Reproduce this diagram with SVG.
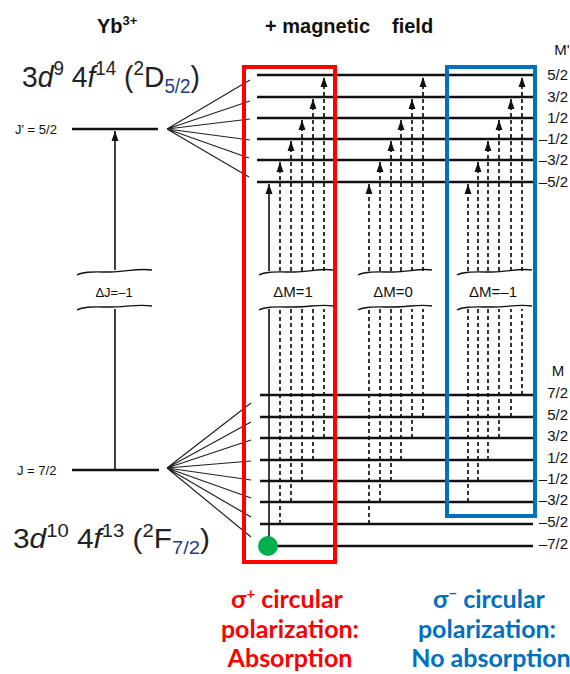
<svg xmlns="http://www.w3.org/2000/svg" width="570" height="674" viewBox="0 0 570 674">
<style>
.lvl{stroke:#111;stroke-width:2.4;fill:none}
.thin{stroke:#222;stroke-width:1.2;fill:none}
.sol{stroke:#111;stroke-width:1.6;fill:none}
.dash{stroke:#111;stroke-width:1.7;fill:none;stroke-dasharray:4 3}
.wave{stroke:#111;stroke-width:1.4;fill:none}
.lab{font-family:"Liberation Sans",Arial,sans-serif;font-size:15px;fill:#111}
.small{font-family:"Liberation Sans",Arial,sans-serif;font-size:13px;fill:#111}
.big{font-family:"Liberation Sans",Arial,sans-serif;fill:#222}
.hd{font-family:"Liberation Sans",Arial,sans-serif;font-size:20px;font-weight:bold;fill:#111}
.cap{font-family:Lato,"Liberation Sans",sans-serif;font-size:25px;font-weight:bold;text-anchor:middle}
</style>
<defs>
<marker id="ah" markerUnits="userSpaceOnUse" markerWidth="8" markerHeight="12" refX="4" refY="1" orient="0" viewBox="0 0 8 12">
<path d="M4 1 L7.5 11 L0.5 11 Z" fill="#111"/>
</marker>
</defs>

<g id="titles">
<text class="hd" x="97" y="33">Yb<tspan font-size="13" dy="-8">3+</tspan></text>
<text class="hd" x="265" y="33">+ magnetic</text>
<text class="hd" x="392" y="33">field</text>
</g>

<g id="upper-term">
<text class="big" x="22" y="87" font-size="30" textLength="178" lengthAdjust="spacingAndGlyphs">3<tspan font-style="italic">d</tspan><tspan font-size="20" dy="-12">9</tspan><tspan dy="12"> 4</tspan><tspan font-style="italic">f</tspan><tspan font-size="20" dy="-12">14</tspan><tspan dy="12"> (</tspan><tspan font-size="20" dy="-12">2</tspan><tspan dy="12">D</tspan><tspan font-size="20" dy="6" fill="#1f3c88">5/2</tspan><tspan dy="-6">)</tspan></text>
<text class="small" x="15" y="134">J' = 5/2</text>
<line class="lvl" x1="72" y1="129" x2="158" y2="129"/>
</g>

<g id="lower-term">
<text class="big" x="13" y="548" font-size="28" textLength="197" lengthAdjust="spacingAndGlyphs">3<tspan font-style="italic">d</tspan><tspan font-size="19" dy="-11">10</tspan><tspan dy="11"> 4</tspan><tspan font-style="italic">f</tspan><tspan font-size="19" dy="-11">13</tspan><tspan dy="11">  (</tspan><tspan font-size="19" dy="-11">2</tspan><tspan dy="11">F</tspan><tspan font-size="19" dy="6" fill="#1f3c88">7/2</tspan><tspan dy="-6">)</tspan></text>
<text class="small" x="17" y="475">J = 7/2</text>
<line class="lvl" x1="72" y1="470" x2="159" y2="470"/>
</g>

<g id="upper-levels">
<line class="lvl" x1="257" y1="75" x2="533" y2="75"/>
<line class="lvl" x1="257" y1="97" x2="533" y2="97"/>
<line class="lvl" x1="257" y1="118" x2="533" y2="118"/>
<line class="lvl" x1="257" y1="139" x2="533" y2="139"/>
<line class="lvl" x1="257" y1="160" x2="533" y2="160"/>
<line class="lvl" x1="257" y1="182" x2="533" y2="182"/>
<text class="lab" x="562" y="55" text-anchor="middle">M'</text>
<text class="lab" x="568" y="80" text-anchor="end">5/2</text>
<text class="lab" x="568" y="102" text-anchor="end">3/2</text>
<text class="lab" x="568" y="123" text-anchor="end">1/2</text>
<text class="lab" x="568" y="144" text-anchor="end">–1/2</text>
<text class="lab" x="568" y="165" text-anchor="end">–3/2</text>
<text class="lab" x="568" y="187" text-anchor="end">–5/2</text>
</g>

<g id="lower-levels">
<line class="lvl" x1="260" y1="395" x2="533" y2="395"/>
<line class="lvl" x1="260" y1="417" x2="533" y2="417"/>
<line class="lvl" x1="260" y1="438" x2="533" y2="438"/>
<line class="lvl" x1="260" y1="460" x2="533" y2="460"/>
<line class="lvl" x1="260" y1="481" x2="533" y2="481"/>
<line class="lvl" x1="260" y1="502" x2="533" y2="502"/>
<line class="lvl" x1="260" y1="524" x2="533" y2="524"/>
<line class="lvl" x1="269" y1="546" x2="533" y2="546"/>
<text class="lab" x="558" y="376" text-anchor="middle">M</text>
<text class="lab" x="568" y="398" text-anchor="end">7/2</text>
<text class="lab" x="568" y="420" text-anchor="end">5/2</text>
<text class="lab" x="568" y="441" text-anchor="end">3/2</text>
<text class="lab" x="568" y="463" text-anchor="end">1/2</text>
<text class="lab" x="568" y="484" text-anchor="end">–1/2</text>
<text class="lab" x="568" y="505" text-anchor="end">–3/2</text>
<text class="lab" x="568" y="527" text-anchor="end">–5/2</text>
<text class="lab" x="568" y="549" text-anchor="end">–7/2</text>
</g>

<g id="connectors">
<path class="thin" d="M167 129 L250 80 M167 129 L250 101 M167 129 L250 119 M167 129 L250 140 M167 129 L249 158 M167 129 L249 177"/>
<path class="thin" d="M167 468 L251 403 M167 468 L251 422 M167 468 L251 440 M167 468 L251 461 M167 468 L251 480 M167 468 L251 498 M167 468 L251 517 M167 468 L251 537"/>
<line class="sol" x1="115" y1="470" x2="115" y2="309"/>
<line class="sol" x1="115" y1="270" x2="115" y2="131" marker-end="url(#ah)"/>
<line class="sol" x1="269" y1="546" x2="269" y2="309"/>
<line class="sol" x1="269" y1="271" x2="269" y2="184" marker-end="url(#ah)"/>
<line class="dash" x1="280" y1="524" x2="280" y2="309"/>
<line class="dash" x1="280" y1="271" x2="280" y2="162" marker-end="url(#ah)"/>
<line class="dash" x1="291" y1="502" x2="291" y2="309"/>
<line class="dash" x1="291" y1="271" x2="291" y2="141" marker-end="url(#ah)"/>
<line class="dash" x1="302" y1="481" x2="302" y2="309"/>
<line class="dash" x1="302" y1="271" x2="302" y2="120" marker-end="url(#ah)"/>
<line class="dash" x1="313" y1="460" x2="313" y2="309"/>
<line class="dash" x1="313" y1="271" x2="313" y2="99" marker-end="url(#ah)"/>
<line class="dash" x1="324" y1="438" x2="324" y2="309"/>
<line class="dash" x1="324" y1="271" x2="324" y2="77" marker-end="url(#ah)"/>
<line class="dash" x1="369" y1="524" x2="369" y2="309"/>
<line class="dash" x1="369" y1="271" x2="369" y2="184" marker-end="url(#ah)"/>
<line class="dash" x1="380" y1="502" x2="380" y2="309"/>
<line class="dash" x1="380" y1="271" x2="380" y2="162" marker-end="url(#ah)"/>
<line class="dash" x1="391" y1="481" x2="391" y2="309"/>
<line class="dash" x1="391" y1="271" x2="391" y2="141" marker-end="url(#ah)"/>
<line class="dash" x1="401" y1="460" x2="401" y2="309"/>
<line class="dash" x1="401" y1="271" x2="401" y2="120" marker-end="url(#ah)"/>
<line class="dash" x1="412" y1="438" x2="412" y2="309"/>
<line class="dash" x1="412" y1="271" x2="412" y2="99" marker-end="url(#ah)"/>
<line class="dash" x1="423" y1="417" x2="423" y2="309"/>
<line class="dash" x1="423" y1="271" x2="423" y2="77" marker-end="url(#ah)"/>
<line class="dash" x1="468" y1="502" x2="468" y2="309"/>
<line class="dash" x1="468" y1="271" x2="468" y2="184" marker-end="url(#ah)"/>
<line class="dash" x1="478" y1="481" x2="478" y2="309"/>
<line class="dash" x1="478" y1="271" x2="478" y2="162" marker-end="url(#ah)"/>
<line class="dash" x1="488" y1="460" x2="488" y2="309"/>
<line class="dash" x1="488" y1="271" x2="488" y2="141" marker-end="url(#ah)"/>
<line class="dash" x1="499" y1="438" x2="499" y2="309"/>
<line class="dash" x1="499" y1="271" x2="499" y2="120" marker-end="url(#ah)"/>
<line class="dash" x1="511" y1="417" x2="511" y2="309"/>
<line class="dash" x1="511" y1="271" x2="511" y2="99" marker-end="url(#ah)"/>
<line class="dash" x1="522" y1="395" x2="522" y2="309"/>
<line class="dash" x1="522" y1="271" x2="522" y2="77" marker-end="url(#ah)"/>
</g>

<g id="breaks">
<path class="wave" d="M77 275 C84 271 95 272 110 272 S138 268 152 270"/>
<path class="wave" d="M77 310 C84 306 95 307 110 307 S138 304 152 306"/>
<path class="wave" d="M259 275 C266 271 278 272 294 272 S320 268 333 270"/>
<path class="wave" d="M259 310 C266 306 278 307 294 307 S320 304 333 306"/>
<path class="wave" d="M358 275 C365 271 377 272 393 272 S419 268 432 270"/>
<path class="wave" d="M358 310 C365 306 377 307 393 307 S419 304 432 306"/>
<path class="wave" d="M457 275 C464 271 476 272 492 272 S518 268 532 270"/>
<path class="wave" d="M457 310 C464 306 476 307 492 307 S518 304 532 306"/>
<text class="small" x="114" y="297" text-anchor="middle">ΔJ=–1</text>
<text class="lab" x="293" y="297" text-anchor="middle" font-size="14">ΔM=1</text>
<text class="lab" x="393" y="297" text-anchor="middle" font-size="14">ΔM=0</text>
<text class="lab" x="493" y="297" text-anchor="middle" font-size="14">ΔM=–1</text>
</g>

<g id="ground-state">
<circle cx="268" cy="546" r="10" fill="#00b050"/>
</g>

<g id="sigma-plus-box">
<rect x="244" y="67" width="91" height="495" fill="none" stroke="#ff0000" stroke-width="4"/>
<text class="cap" fill="#ff0000" x="287" y="608">σ<tspan font-size="15" dy="-9">+</tspan><tspan dy="9"> circular</tspan></text>
<text class="cap" fill="#ff0000" x="290" y="638">polarization:</text>
<text class="cap" fill="#ff0000" x="290" y="667">Absorption</text>
</g>

<g id="sigma-minus-box">
<rect x="447" y="67" width="88" height="449" fill="none" stroke="#0070c0" stroke-width="4"/>
<text class="cap" fill="#0070c0" x="489" y="608">σ<tspan font-size="15" dy="-9">−</tspan><tspan dy="9"> circular</tspan></text>
<text class="cap" fill="#0070c0" x="487" y="638">polarization:</text>
<text class="cap" fill="#0070c0" x="491" y="667">No absorption</text>
</g>
</svg>
